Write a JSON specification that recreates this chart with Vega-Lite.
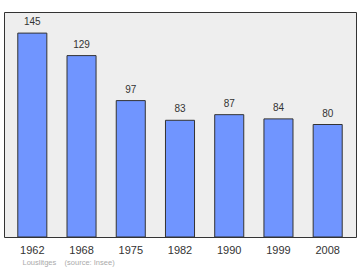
{
  "$schema": "https://vega.github.io/schema/vega-lite/v6.json",
  "width": 352,
  "height": 225,
  "autosize": "none",
  "padding": {"left": 4, "top": 12, "right": 4, "bottom": 33},
  "background": "white",
  "view": {"fill": "#eeeeee", "stroke": "#333333", "strokeWidth": 1},
  "config": {"font": "Liberation Sans"},
  "data": {"values": [
    {"year": "1962", "pop": 145},
    {"year": "1968", "pop": 129},
    {"year": "1975", "pop": 97},
    {"year": "1982", "pop": 83},
    {"year": "1990", "pop": 87},
    {"year": "1999", "pop": 84},
    {"year": "2008", "pop": 80}
  ]},
  "encoding": {
    "x": {"field": "year", "type": "ordinal", "sort": null,
      "scale": {"paddingInner": 0.41, "paddingOuter": 0.28},
      "axis": {"labelAngle": 0, "domain": false, "ticks": false, "labelPadding": 7,
        "labelFontSize": 11, "labelColor": "#333333",
        "title": "Louslitges\u00a0\u00a0\u00a0\u00a0(source: Insee)", "titleFontSize": 7.5, "titleFontWeight": "normal",
        "titleColor": "#aaaaaa", "titleAlign": "left", "titleAnchor": "start", "titleX": 18, "titleY": 25, "titleBaseline": "middle"}},
    "y": {"field": "pop", "type": "quantitative", "scale": {"domain": [0, 160], "nice": false}, "axis": null}
  },
  "layer": [
    {"mark": {"type": "bar", "fill": "#7095ff", "stroke": "#333333", "strokeWidth": 1}},
    {"mark": {"type": "text", "baseline": "bottom", "dy": -6, "fontSize": 10, "color": "#333333"},
      "encoding": {"text": {"field": "pop", "type": "quantitative"}}}
  ]
}
